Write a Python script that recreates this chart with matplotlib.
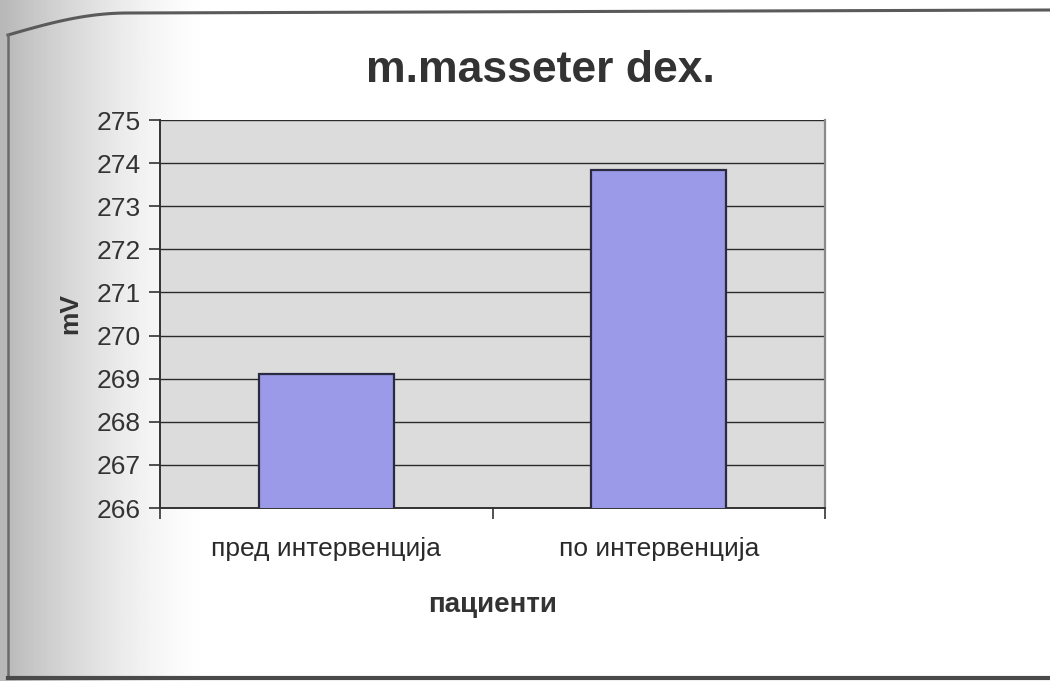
import numpy as np
import matplotlib
matplotlib.use("Agg")
import matplotlib.pyplot as plt
from matplotlib.lines import Line2D

# bar chart values (mV)
categories = ["пред интервенција", "по интервенција"]
values = [269.1, 273.85]
y_ticks = [266, 267, 268, 269, 270, 271, 272, 273, 274, 275]

plt.rcParams["font.family"] = ["Liberation Sans", "DejaVu Sans"]

fig = plt.figure(figsize=(10.5, 6.81), dpi=100)
fig.patch.set_facecolor("white")

# page shading behind the chart, darker at the left edge
bg = fig.add_axes([0, 0, 1, 1], zorder=-10)
xs = np.linspace(0, 1, 400)
shade = np.clip(1 - xs / 0.2, 0, 1) ** 1.5
grad = 1 - 0.28 * shade
bg.imshow(np.tile(grad, (10, 1)), cmap="gray", vmin=0, vmax=1,
          aspect="auto", extent=[0, 1, 0, 1])
bg.set_xlim(0, 1)
bg.set_ylim(0, 1)
bg.axis("off")

# chart border: curved top-left corner, left and bottom edges
W, H = 1050, 681
t = np.linspace(0, 1, 40)
cx = 8 + 120 * t
cy = 35 - 22 * np.sin(t * np.pi / 2)
top_x = np.concatenate([cx, [1050]])
top_y = np.concatenate([cy, [10]])
fig.add_artist(Line2D(top_x / W, 1 - top_y / H, color="#5a5a5a", lw=2.2))
fig.add_artist(Line2D([8 / W, 8 / W], [1 - 35 / H, 1 - 678 / H], color="#6a6a6a", lw=1.8))
fig.add_artist(Line2D([8 / W, 1], [1 - 678 / H, 1 - 678 / H], color="#4a4a4a", lw=3))

ax = fig.add_axes([160 / W, 1 - 508 / H, 665 / W, 388 / H])
ax.set_facecolor("#dcdcdc")

x = np.arange(len(categories))
ax.bar(x, values, width=0.405, color="#9a9ae8", edgecolor="#2a2a40",
       linewidth=1.6, zorder=3)

ax.set_ylim(266, 275)
ax.set_xlim(-0.5, 1.5)
ax.set_yticks(y_ticks)
ax.set_yticklabels([str(v) for v in y_ticks], fontsize=19, color="#333333")
ax.yaxis.grid(True, color="#2a2a2a", linewidth=1.0, zorder=1)
ax.set_axisbelow(True)

# category ticks sit on the boundaries between the bars
ax.set_xticks([-0.5, 0.5, 1.5])
ax.set_xticklabels([])
ax.set_xticks(x, minor=True)
ax.set_xticklabels(categories, minor=True, fontsize=19, color="#2a2a2a")
ax.tick_params(axis="x", which="minor", length=0, pad=21)
ax.tick_params(axis="x", which="major", direction="out", length=8, width=1.2, color="#333333")
ax.tick_params(axis="y", direction="out", length=8, width=1.2, color="#333333", pad=6)

for side in ["left", "bottom"]:
    ax.spines[side].set_color("#333333")
    ax.spines[side].set_linewidth(1.4)
ax.spines["top"].set_visible(False)
ax.spines["right"].set_color("#8a8a8a")
ax.spines["right"].set_linewidth(1.6)

ax.set_ylabel("mV", fontsize=19, fontweight="bold", color="#333333", labelpad=10)
ax.set_xlabel("пациенти", fontsize=20, fontweight="bold", color="#333333", labelpad=22)

fig.text(540 / W, 1 - 70 / H, "m.masseter dex.", fontsize=32, fontweight="bold",
         color="#333333", ha="center", va="center")

fig.savefig("out.png", dpi=100)
